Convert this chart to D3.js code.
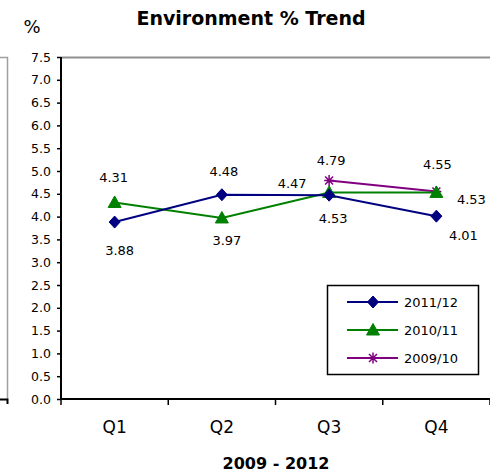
<!DOCTYPE html>
<html><head><meta charset="utf-8">
<script src="https://cdn.jsdelivr.net/npm/d3@7"></script>
<style>
html,body{margin:0;padding:0;background:#fff;}
svg{display:block;}
text{font-family:"DejaVu Sans",Verdana,sans-serif;fill:#000;}
</style></head>
<body>
<svg id="chart" width="490" height="474"></svg>
<script>
// ---- data ----
const categories = ["Q1", "Q2", "Q3", "Q4"];
const yTicks = [0, 0.5, 1, 1.5, 2, 2.5, 3, 3.5, 4, 4.5, 5, 5.5, 6, 6.5, 7, 7.5];
const seriesNames = ["2011/12", "2010/11", "2009/10"];
const values2011 = [3.88, 4.48, 4.47, 4.01];
const values2010 = [4.31, 3.97, 4.53, 4.53];
const values2009 = [null, null, 4.79, 4.55];
const titleText = "Environment % Trend";
const xTitleText = "2009 - 2012";
const yTitleText = "%";

// ---- styles / label placements (not data) ----
const colors = ["#000080", "#008000", "#800080"];
const markers = ["diamond", "triangle", "star"];
// label offsets (dx, dy of label centre relative to the point)
const labelOffsets = [
  [[5, 28], [2, -23], [-37, -12], [27, 19]],
  [[-1, -25], [5, 22], [4, 26], [35, 7]],
  [null, null, [2, -20], [1, -27]]
];

const seriesValues = [values2011, values2010, values2009];

const svg = d3.select("#chart");
const x = d3.scaleBand().domain(categories).range([61, 490]).padding(0);
const y = d3.scaleLinear().domain([0, 7.5]).range([399, 57]);

// remnant of neighbouring chart at the left edge
svg.append("path").attr("d", "M0,57.5H7.5V399").attr("fill", "none").attr("stroke", "#a0a0a0").attr("stroke-width", 1.5);
svg.append("path").attr("d", "M0,399.5H7.5V404").attr("fill", "none").attr("stroke", "#000").attr("stroke-width", 2);

// plot area top border
svg.append("line").attr("x1", 61).attr("x2", 490).attr("y1", 57.5).attr("y2", 57.5)
  .attr("stroke", "#909090").attr("stroke-width", 2);

// y axis
const yAxis = d3.axisLeft(y).tickValues(yTicks).tickFormat(d3.format(".1f")).tickSize(4).tickPadding(6);
const gy = svg.append("g").attr("transform", "translate(61,0)").call(yAxis);
gy.select(".domain").attr("stroke", "#000").attr("stroke-width", 2).attr("d", "M0,57V399");
gy.selectAll(".tick line").attr("stroke", "#000").attr("stroke-width", 1.5);
gy.selectAll(".tick text").style("font-family", "DejaVu Sans").style("font-size", "12.5px").attr("fill", "#000");

// x axis
const xAxis = d3.axisBottom(x).tickSize(0).tickPadding(22);
const gx = svg.append("g").attr("transform", "translate(0,399)").call(xAxis);
gx.select(".domain").attr("stroke", "#000").attr("stroke-width", 2).attr("d", "M61,0H490");
gx.selectAll(".tick text").style("font-family", "DejaVu Sans").style("font-size", "17px").attr("fill", "#000").attr("dy", "0.71em");
// category boundary ticks
const boundaries = categories.map(c => x(c)).concat([x(categories[categories.length - 1]) + x.bandwidth()]);
gx.selectAll(".btick").data(boundaries).enter().append("line")
  .attr("x1", d => d).attr("x2", d => d).attr("y1", 0).attr("y2", 6)
  .attr("stroke", "#000").attr("stroke-width", 1.5);

function markerPath(type) {
  if (type === "diamond") return "M0,-6L5.5,0L0,6L-5.5,0Z";
  if (type === "triangle") return "M0,-6.5L6.5,5L-6.5,5Z";
  return "M-4,-4L4,4M-4,4L4,-4M0,-5.5L0,5.5M-5,0L5,0";
}

const cx = c => x(c) + x.bandwidth() / 2;

// draw series in reverse so 2011/12 sits on top
for (let s = seriesValues.length - 1; s >= 0; s--) {
  const pts = categories.map((c, i) => ({c, v: seriesValues[s][i], i})).filter(d => d.v !== null);
  const line = d3.line().x(d => cx(d.c)).y(d => y(d.v));
  svg.append("path").datum(pts).attr("d", line).attr("fill", "none")
    .attr("stroke", colors[s]).attr("stroke-width", 2);
  svg.selectAll(null).data(pts).enter().append("path")
    .attr("transform", d => `translate(${cx(d.c)},${y(d.v)})`)
    .attr("d", markerPath(markers[s]))
    .attr("fill", markers[s] === "star" ? "none" : colors[s])
    .attr("stroke", colors[s]).attr("stroke-width", markers[s] === "star" ? 1.5 : 1);
}
// data labels
seriesValues.forEach((vals, s) => {
  categories.forEach((c, i) => {
    if (vals[i] === null) return;
    const off = labelOffsets[s][i];
    svg.append("text").attr("x", cx(c) + off[0]).attr("y", y(vals[i]) + off[1])
      .attr("text-anchor", "middle").attr("dy", "0.36em")
      .style("font-size", "13px").text(vals[i].toFixed(2));
  });
});

// legend
const lg = svg.append("g");
lg.append("rect").attr("x", 327.5).attr("y", 285.5).attr("width", 151).attr("height", 89)
  .attr("fill", "#fff").attr("stroke", "#000").attr("stroke-width", 1.5);
seriesNames.forEach((n, s) => {
  const yy = 302 + s * 28;
  lg.append("line").attr("x1", 347).attr("x2", 398).attr("y1", yy).attr("y2", yy)
    .attr("stroke", colors[s]).attr("stroke-width", 2);
  lg.append("path").attr("transform", `translate(373,${yy})`).attr("d", markerPath(markers[s]))
    .attr("fill", markers[s] === "star" ? "none" : colors[s])
    .attr("stroke", colors[s]).attr("stroke-width", markers[s] === "star" ? 1.5 : 1);
  lg.append("text").attr("x", 404).attr("y", yy).attr("dy", "0.36em")
    .style("font-size", "13px").text(n);
});

// titles
svg.append("text").attr("x", 251).attr("y", 25).attr("text-anchor", "middle")
  .style("font-size", "19px").style("font-weight", "bold").text(titleText);
svg.append("text").attr("x", 276).attr("y", 469).attr("text-anchor", "middle")
  .style("font-size", "16px").style("font-weight", "bold").text(xTitleText);
svg.append("text").attr("x", 32).attr("y", 33).attr("text-anchor", "middle")
  .style("font-size", "18px").text(yTitleText);
</script>
</body></html>
